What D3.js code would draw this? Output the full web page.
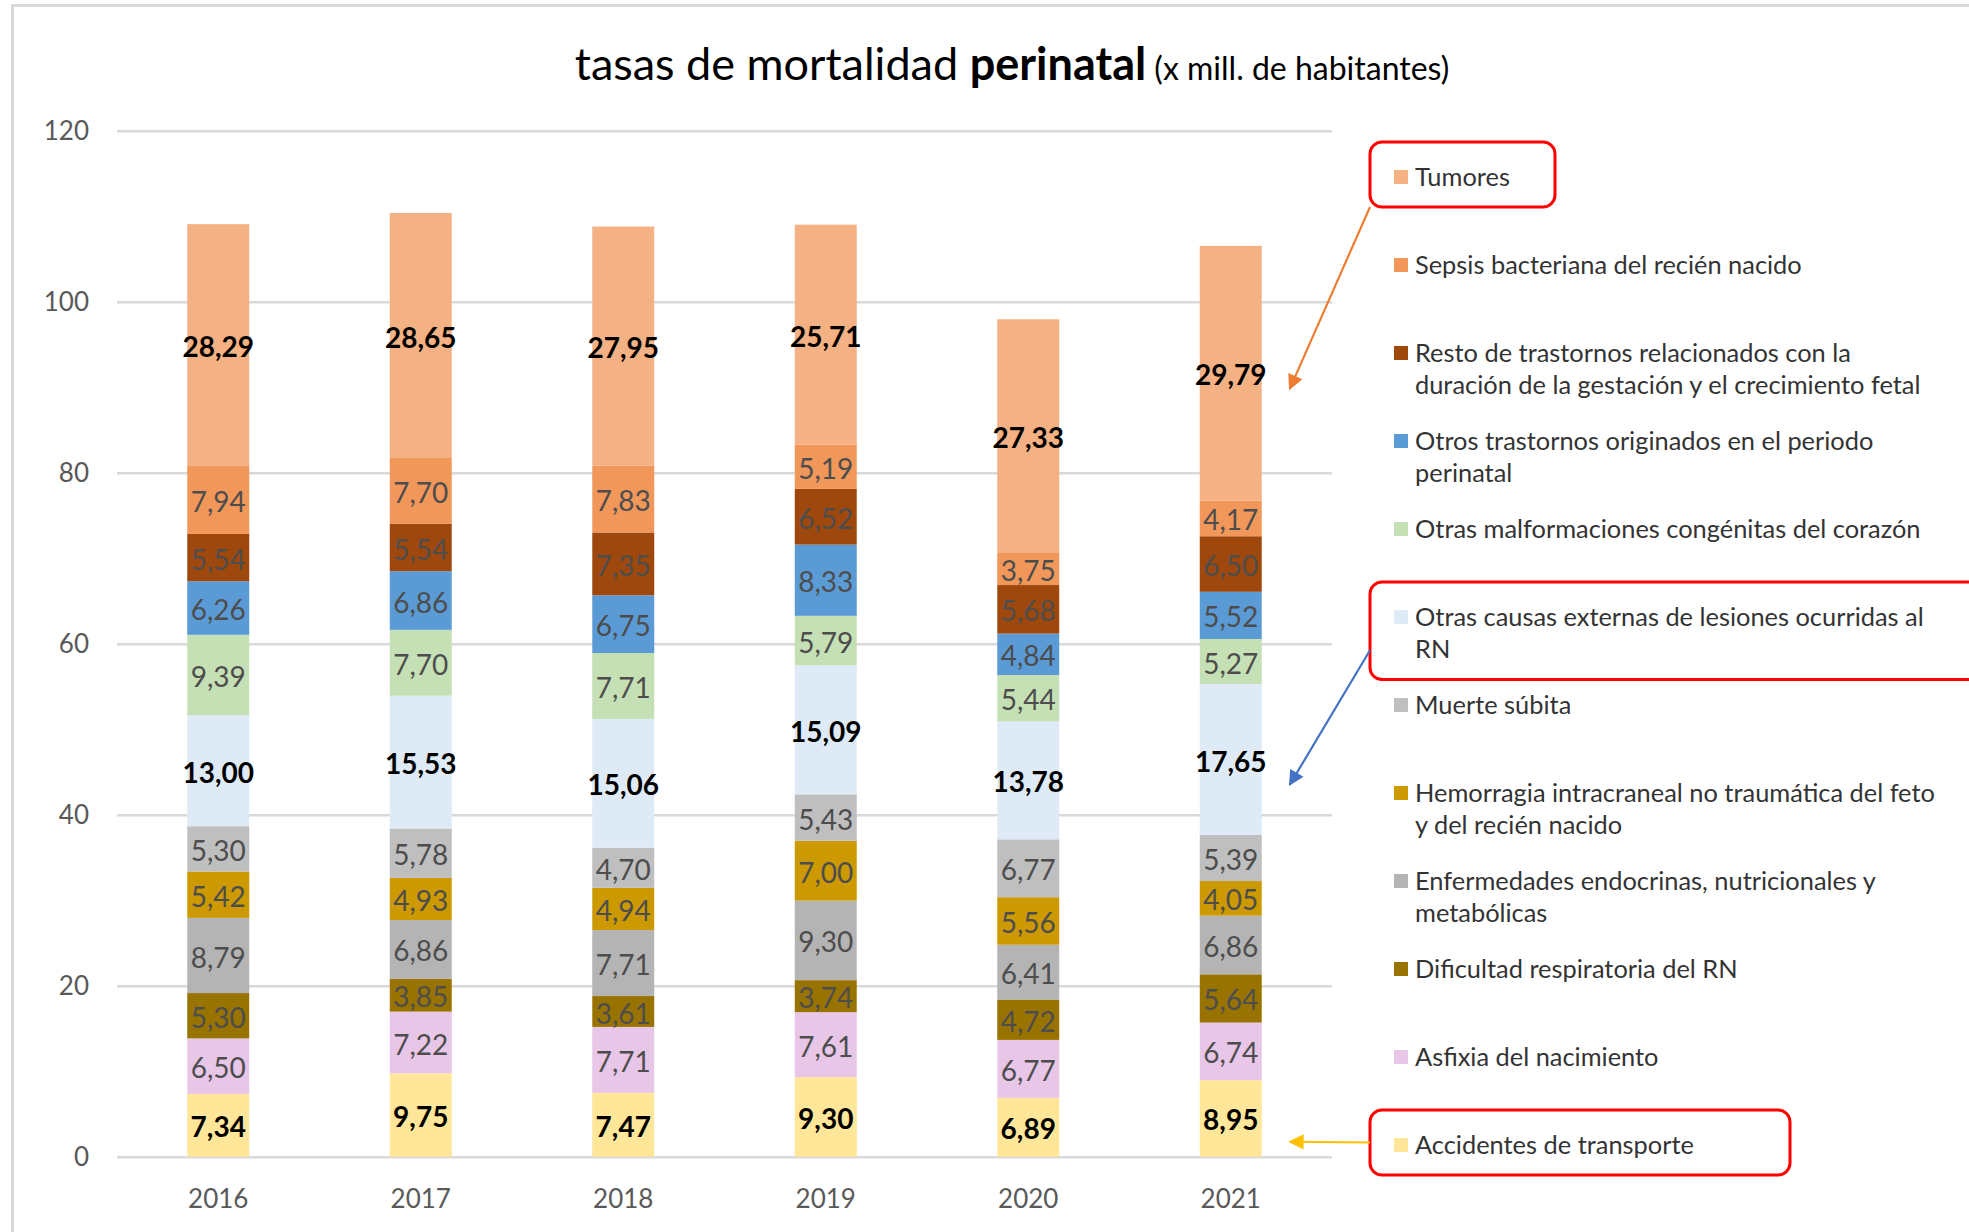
<!DOCTYPE html>
<html>
<head>
<meta charset="utf-8">
<script src="https://cdn.jsdelivr.net/npm/d3@7"></script>
<style>
  html, body { margin: 0; padding: 0; background: #fff; }
  svg { display: block; font-family: Lato, "Open Sans", sans-serif; }
</style>
</head>
<body>
<svg id="chart" width="1969" height="1232"></svg>
<script>
// Years on the x axis
const years = ["2016", "2017", "2018", "2019", "2020", "2021"];

// Rates per cause (x mill. de habitantes), one value per year
const accidentes     = [7.34, 9.75, 7.47, 9.30, 6.89, 8.95];
const asfixia        = [6.50, 7.22, 7.71, 7.61, 6.77, 6.74];
const dificultad     = [5.30, 3.85, 3.61, 3.74, 4.72, 5.64];
const endocrinas     = [8.79, 6.86, 7.71, 9.30, 6.41, 6.86];
const hemorragia     = [5.42, 4.93, 4.94, 7.00, 5.56, 4.05];
const muerteSubita   = [5.30, 5.78, 4.70, 5.43, 6.77, 5.39];
const causasExternas = [13.00, 15.53, 15.06, 15.09, 13.78, 17.65];
const malformaciones = [9.39, 7.70, 7.71, 5.79, 5.44, 5.27];
const otrosTrastornos= [6.26, 6.86, 6.75, 8.33, 4.84, 5.52];
const restoGestacion = [5.54, 5.54, 7.35, 6.52, 5.68, 6.50];
const sepsis         = [7.94, 7.70, 7.83, 5.19, 3.75, 4.17];
const tumores        = [28.29, 28.65, 27.95, 25.71, 27.33, 29.79];

// Series in stacking order, bottom to top
const seriesKeys = ["acc", "asf", "dif", "end", "hem", "mue", "ext", "mal", "otr", "res", "sep", "tum"];
const seriesValues = [accidentes, asfixia, dificultad, endocrinas, hemorragia, muerteSubita,
                      causasExternas, malformaciones, otrosTrastornos, restoGestacion, sepsis, tumores];
const seriesLegend = [
  ["Accidentes de transporte"],
  ["Asfixia del nacimiento"],
  ["Dificultad respiratoria del RN"],
  ["Enfermedades endocrinas, nutricionales y", "metabólicas"],
  ["Hemorragia intracraneal no traumática del feto", "y del recién nacido"],
  ["Muerte súbita"],
  ["Otras causas externas de lesiones ocurridas al", "RN"],
  ["Otras malformaciones congénitas del corazón"],
  ["Otros trastornos originados en el periodo", "perinatal"],
  ["Resto de trastornos relacionados con la", "duración de la gestación y el crecimiento fetal"],
  ["Sepsis bacteriana del recién nacido"],
  ["Tumores"]
];
const seriesColors = ["#ffe699", "#e7c6e7", "#997300", "#b4b4b4", "#cc9900", "#bfbfbf",
                      "#deebf7", "#c5e0b4", "#5b9bd5", "#9e480e", "#f1975a", "#f4b183"];
// Series whose labels are emphasised and which get a callout
const highlighted = ["tum", "ext", "acc"];

const yTicks = [0, 20, 40, 60, 80, 100, 120];

// Build a tidy table for d3.stack
const table = years.map((yr, i) => {
  const row = { year: yr };
  seriesKeys.forEach((k, s) => { row[k] = seriesValues[s][i]; });
  return row;
});

const svg = d3.select("#chart");

// Outer chart frame
svg.append("rect")
  .attr("x", 12.5).attr("y", 5.5).attr("width", 2000).attr("height", 1300)
  .attr("fill", "none").attr("stroke", "#d9d9d9").attr("stroke-width", 3);

const plot = { left: 117, right: 1332, top: 130.7, bottom: 1156.7 };

const x = d3.scaleBand().domain(years).range([plot.left, plot.right])
  .paddingInner(0.694).paddingOuter(0.347);
const y = d3.scaleLinear().domain([0, 120]).range([plot.bottom, plot.top]);

// Title
const title = svg.append("text")
  .attr("x", 1012).attr("y", 80)
  .attr("text-anchor", "middle")
  .attr("fill", "#000");
title.append("tspan").attr("font-size", 45).text("tasas de mortalidad ");
title.append("tspan").attr("font-size", 45).attr("font-weight", "bold").text("perinatal");
title.append("tspan").attr("font-size", 32).text(" (x mill. de habitantes)");

// Gridlines and y axis labels
const yAxis = d3.axisLeft(y).tickValues(yTicks)
  .tickSize(-(plot.right - plot.left)).tickPadding(28);
const yg = svg.append("g").attr("transform", `translate(${plot.left},0)`).call(yAxis);
yg.select(".domain").remove();
yg.selectAll(".tick line").attr("stroke", "#d9d9d9").attr("stroke-width", 2.5);
yg.selectAll(".tick text")
  .attr("fill", "#595959").attr("font-size", 26).attr("font-family", "Lato, sans-serif");

// x axis labels
const xAxis = d3.axisBottom(x).tickSize(0).tickPadding(33);
const xg = svg.append("g").attr("transform", `translate(0,${plot.bottom})`).call(xAxis);
xg.select(".domain").remove();
xg.selectAll(".tick text")
  .attr("fill", "#595959").attr("font-size", 26).attr("font-family", "Lato, sans-serif");

// Stacked bars
const stacked = d3.stack().keys(seriesKeys)(table);

const layers = svg.append("g").selectAll("g")
  .data(stacked).join("g")
  .attr("fill", (d, i) => seriesColors[i]);

layers.selectAll("rect")
  .data(d => d.map(p => ({ p, key: d.key })))
  .join("rect")
  .attr("x", d => x(d.p.data.year))
  .attr("width", x.bandwidth())
  .attr("y", d => y(d.p[1]))
  .attr("height", d => y(d.p[0]) - y(d.p[1]));

// Value labels in each segment
const fmt = v => d3.format(".2f")(v).replace(".", ",");
layers.selectAll("text")
  .data(d => d.map(p => ({ p, key: d.key })))
  .join("text")
  .attr("x", d => x(d.p.data.year) + x.bandwidth() / 2)
  .attr("y", d => y((d.p[0] + d.p[1]) / 2))
  .attr("dy", "0.43em")
  .attr("text-anchor", "middle")
  .attr("font-size", 28)
  .attr("font-weight", d => highlighted.includes(d.key) ? "bold" : "normal")
  .attr("fill", d => highlighted.includes(d.key) ? "#000" : "#4d4d4d")
  .text(d => fmt(d.p[1] - d.p[0]));

// Legend, top to bottom in reverse stacking order
const legend = { x: 1394, textX: 1415, firstY: 177, step: 88, lineH: 32.5 };
const legendOrder = d3.range(seriesKeys.length).reverse();
const lg = svg.append("g");
legendOrder.forEach((s, row) => {
  const cy = legend.firstY + row * legend.step;
  lg.append("rect")
    .attr("x", legend.x).attr("y", cy - 7)
    .attr("width", 14).attr("height", 14)
    .attr("fill", seriesColors[s]);
  const t = lg.append("text")
    .attr("x", legend.textX).attr("y", cy)
    .attr("font-size", 25.4).attr("fill", "#333");
  seriesLegend[s].forEach((line, li) => {
    t.append("tspan").attr("x", legend.textX)
      .attr("dy", li === 0 ? "0.35em" : legend.lineH).text(line);
  });
});

// Callouts: red boxes around selected legend entries, arrows to the 2021 bar
const callouts = [
  { key: "tum", width: 185, color: "#ed7d31", fromFrac: 1.0, tipValue: 89.8 },
  { key: "ext", width: 640, color: "#4472c4", fromFrac: 0.7, tipValue: 43.5 },
  { key: "acc", width: 420, color: "#ffc000", fromFrac: 0.5, tipValue: 1.75 }
];
const defs = svg.append("defs");
callouts.forEach((c, i) => {
  defs.append("marker")
    .attr("id", "head" + i)
    .attr("viewBox", "0 0 10 10").attr("refX", 9).attr("refY", 5)
    .attr("markerWidth", 9).attr("markerHeight", 7).attr("markerUnits", "strokeWidth")
    .attr("orient", "auto")
    .append("path").attr("d", "M0,0 L10,5 L0,10 z").attr("fill", c.color);
});

const lastYear = years[years.length - 1];
callouts.forEach((c, i) => {
  const s = seriesKeys.indexOf(c.key);
  const row = legendOrder.indexOf(s);
  const cy = legend.firstY + row * legend.step;
  const nLines = seriesLegend[s].length;
  const top = cy - 35;
  const bottom = cy + (nLines - 1) * legend.lineH + 30;
  const bx = 1370;
  svg.append("rect")
    .attr("x", bx).attr("y", top)
    .attr("width", c.width).attr("height", bottom - top)
    .attr("rx", 12).attr("ry", 12)
    .attr("fill", "none").attr("stroke", "#ff0000").attr("stroke-width", 3);
  const fromY = top + (bottom - top) * c.fromFrac;
  const tipX = x(lastYear) + x.bandwidth() + 28;
  svg.append("line")
    .attr("x1", bx).attr("y1", fromY)
    .attr("x2", tipX).attr("y2", y(c.tipValue))
    .attr("stroke", c.color).attr("stroke-width", 2.2)
    .attr("marker-end", `url(#head${i})`);
});
</script>
</body>
</html>
